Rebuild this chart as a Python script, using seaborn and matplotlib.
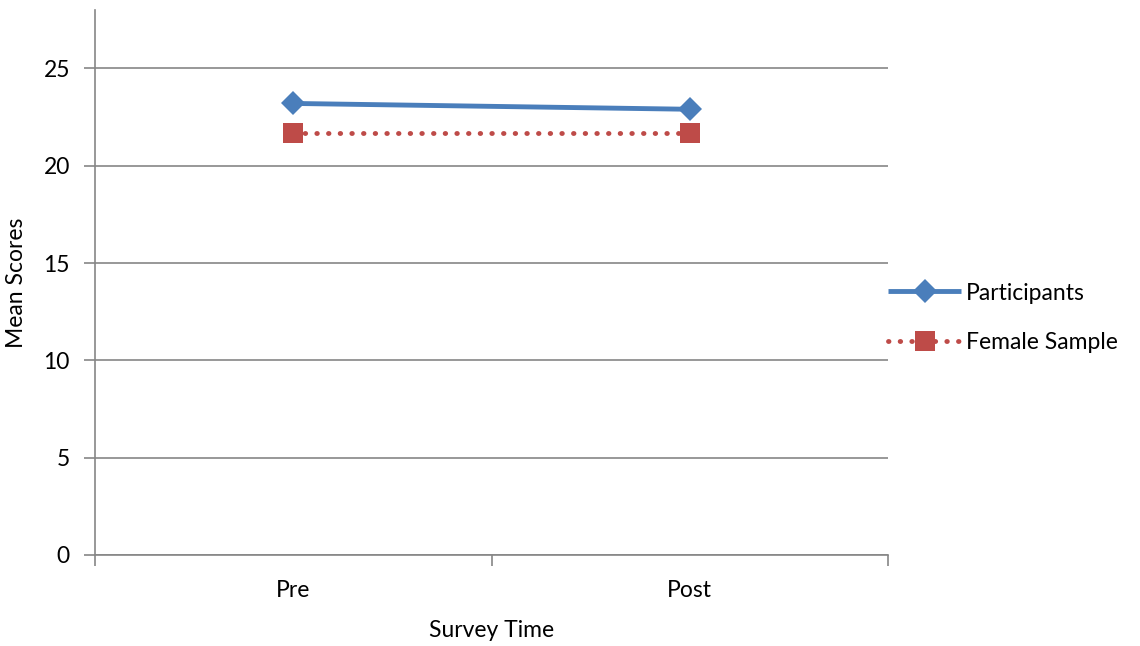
import matplotlib
matplotlib.use("Agg")
import matplotlib.pyplot as plt
import seaborn as sns
import pandas as pd

# data
survey_times = ["Pre", "Post"]
participants = [23.2, 22.9]
female_sample = [21.7, 21.7]
series_names = ["Participants", "Female Sample"]
y_ticks = [0, 5, 10, 15, 20, 25]

df = pd.DataFrame({
    "Survey Time": survey_times * 2,
    "Mean Scores": participants + female_sample,
    "Series": [series_names[0]] * 2 + [series_names[1]] * 2,
})

sns.set_theme(style="white")
plt.rcParams["font.family"] = ["Lato", "DejaVu Sans"]
plt.rcParams["text.color"] = "black"
plt.rcParams["axes.labelcolor"] = "black"
plt.rcParams["xtick.color"] = "black"
plt.rcParams["ytick.color"] = "black"

fs = 16.5

fig = plt.figure(figsize=(11.4, 6.46), dpi=100)
ax = fig.add_axes([0.0833, 0.1409, 0.779 - 0.0833, 0.9845 - 0.1409])

blue = "#4A7EBB"
red = "#BE4B48"
grid_col = "#868686"

sns.lineplot(data=df, x="Survey Time", y="Mean Scores", hue="Series",
             style="Series", palette=[blue, red],
             markers=["D", "s"], dashes=[(1, 0), (0.1, 2.3)],
             markersize=12, linewidth=3.5, markeredgewidth=0,
             sort=False, ax=ax, legend=False)

lines = ax.get_lines()
lines[0].set_markersize(12)
lines[1].set_markersize(14)
lines[1].set_dash_capstyle("round")

ax.set_xlim(-0.5, 1.5)
ax.set_ylim(0, 28)
ax.set_yticks(y_ticks)
ax.set_xticks([0, 1])
ax.set_xticklabels(survey_times)
ax.set_xticks([-0.5, 0.5, 1.5], minor=True)

ax.yaxis.grid(True, color=grid_col, linewidth=1.2)
ax.xaxis.grid(False)
for side in ["top", "right"]:
    ax.spines[side].set_visible(False)
for side in ["left", "bottom"]:
    ax.spines[side].set_color(grid_col)
    ax.spines[side].set_linewidth(1.2)

ax.tick_params(axis="y", which="major", direction="out", length=8,
               width=1.2, color=grid_col, left=True, labelsize=fs, pad=10)
ax.tick_params(axis="x", which="major", length=0, labelsize=fs, pad=18)
ax.tick_params(axis="x", which="minor", direction="out", length=8,
               width=1.2, color=grid_col, bottom=True)

ax.set_xlabel("Survey Time", fontsize=fs, labelpad=14)
ax.set_ylabel("Mean Scores", fontsize=fs, labelpad=12)

leg = ax.legend(handles=lines, labels=series_names, loc="center left",
                bbox_to_anchor=(0.771, 0.508), bbox_transform=fig.transFigure,
                frameon=False, fontsize=fs, handlelength=3.2,
                handletextpad=0.2, labelspacing=1.25, borderaxespad=0)

fig.savefig("out.png", dpi=100)
